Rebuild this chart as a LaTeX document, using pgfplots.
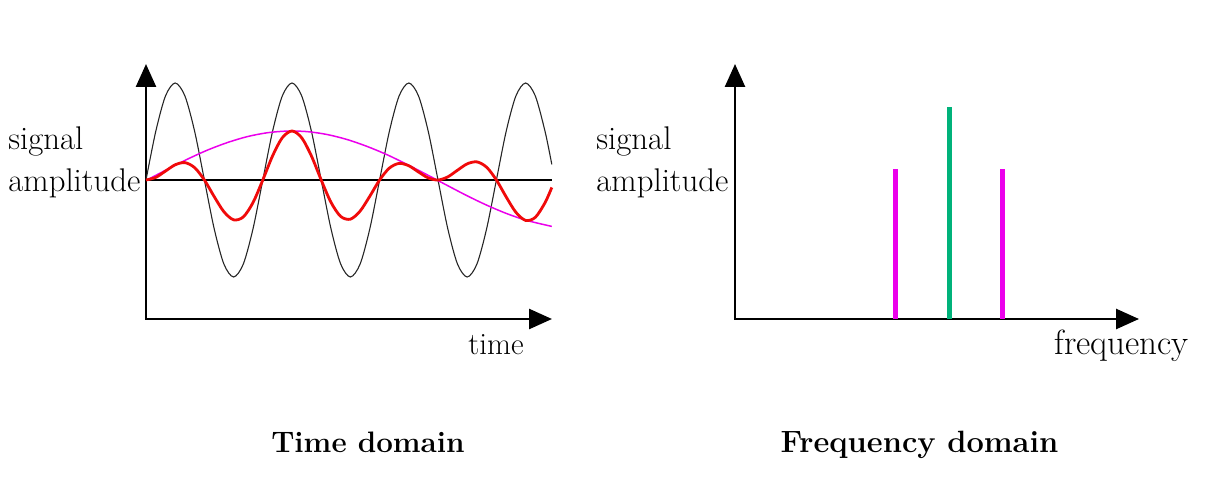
\documentclass[border=0pt]{standalone}
\usepackage{pgfplots}
\pgfplotsset{compat=1.18}
\usetikzlibrary{arrows.meta}
\definecolor{mag}{RGB}{235,0,235}
\definecolor{grn}{RGB}{0,178,122}
\definecolor{rd}{RGB}{240,10,10}
\begin{document}
\begin{tikzpicture}
\useasboundingbox (0pt,0pt) rectangle (609pt,238pt);
\pgfplotsset{myax/.style={scale only axis, axis lines=left, xtick=\empty, ytick=\empty,
  axis line style={line width=1.3pt, line cap=rect, -{Triangle[length=11.5pt,width=10pt]}}, clip=false}}
% ---------- Time domain ----------
\begin{axis}[myax, at={(73pt,78.5pt)}, anchor=south west, width=203pt, height=127.5pt,
  xmin=0, xmax=406, ymin=-139, ymax=116]
\addplot[black!85, line width=0.55pt, smooth] coordinates {
(0,0) (9.73,48.5) (19.47,84.0) (29.2,97) (38.93,84.0) (48.67,48.5) (58.4,0) (68.13,-48.5) (77.87,-84.0) (87.6,-97) (97.33,-84.0) (107.07,-48.5)
(116.8,0) (126.53,48.5) (136.27,84.0) (146.0,97) (155.73,84.0) (165.47,48.5) (175.2,0) (184.93,-48.5) (194.67,-84.0) (204.4,-97) (214.13,-84.0) (223.87,-48.5)
(233.6,0) (243.33,48.5) (253.07,84.0) (262.8,97) (272.53,84.0) (282.27,48.5) (292.0,0) (301.73,-48.5) (311.47,-84.0) (321.2,-97) (330.93,-84.0) (340.67,-48.5)
(350.4,0) (360.13,48.5) (369.87,84.0) (379.6,97) (389.33,84.0) (399.07,48.5) (405.8,15.6)};
\addplot[black, line width=0.6pt] coordinates {(0,0) (405.8,0)};
\addplot[mag, line width=0.75pt, smooth] coordinates {
(1,0) (21,10.5) (41,20.6) (61,29.7) (81,37.3) (101,43.3) (121,47.2) (141,48.9) (161,48.4) (181,45.5) (201,40.5)
(221,33.6) (241,25.3) (261,15.6) (281,5.3) (301,-5.3) (321,-15.7) (341,-25.3) (361,-33.7) (381,-40.5) (405.8,-46.4)};
\addplot[rd, line width=1.4pt, smooth] coordinates {
(0,0) (9.73,2.58) (19.47,8.89) (29.2,15.24) (38.93,17.37) (48.67,12.33) (58.4,0) (68.13,-16.49) (77.87,-31.70) (87.6,-39.84) (97.33,-36.92) (107.07,-22.46)
(116.8,0) (126.53,24.01) (136.27,42.24) (146.0,49.0) (155.73,42.15) (165.47,23.90) (175.2,0) (184.93,-22.24) (194.67,-36.43) (204.4,-39.18) (214.13,-31.07) (223.87,-16.10)
(233.6,0) (243.33,11.88) (253.07,16.58) (262.8,14.24) (272.53,7.98) (282.27,2.05) (292.0,0) (301.73,3.10) (311.47,9.76) (321.2,16.17) (330.93,18.12) (340.67,12.74)
(350.4,0) (360.13,-16.86) (369.87,-32.28) (379.6,-40.41) (389.33,-37.32) (399.07,-22.64) (405.8,-7.48)};
\end{axis}
% ---------- Frequency domain ----------
\begin{axis}[myax, at={(367.5pt,78.5pt)}, anchor=south west, width=202pt, height=127.5pt,
  xmin=0, xmax=404, ymin=0, ymax=255]
\addplot[mag, line width=2.5pt, ycomb, line cap=butt] coordinates {(160,150) (267,150)};
\addplot[grn, line width=2.5pt, ycomb, line cap=butt] coordinates {(214,212)};
\end{axis}
% ---------- Labels ----------
\tikzset{lab/.style={inner sep=0pt, font=\fontsize{16.4}{19}\selectfont}}
\node[lab, anchor=base west] at (4pt,163pt) {signal};
\node[lab, anchor=base west] at (4pt,142pt) {amplitude};
\node[lab, anchor=base west] at (298pt,163pt) {signal};
\node[lab, anchor=base west] at (298pt,142pt) {amplitude};
\node[inner sep=0pt, anchor=base west, font=\fontsize{15.5}{18}\selectfont] at (234pt,60.5pt) {time};
\node[inner sep=0pt, anchor=base west, font=\fontsize{17.5}{20}\selectfont] at (527pt,60.5pt) {frequency};
\node[inner sep=0pt, anchor=base, font=\fontsize{14.8}{17}\selectfont\bfseries] at (184pt,12pt) {Time domain};
\node[inner sep=0pt, anchor=base, font=\fontsize{15.4}{18}\selectfont\bfseries] at (459.75pt,12pt) {Frequency domain};
\end{tikzpicture}
\end{document}
